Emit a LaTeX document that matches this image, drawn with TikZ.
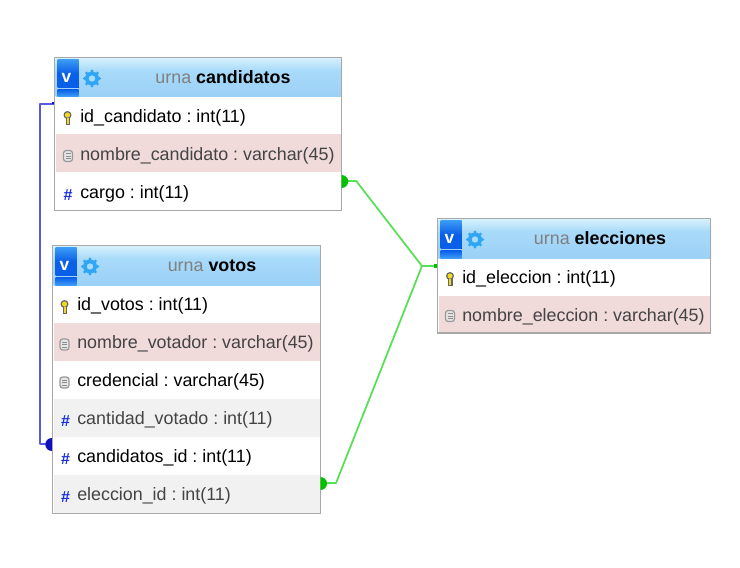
\documentclass[tikz,border=0pt]{standalone}
\usepackage{fontspec}
\setmainfont{Liberation Sans}
\usetikzlibrary{calc,shapes.geometric}
\definecolor{hdrtop}{HTML}{D4F0FD}
\definecolor{hdrmid}{HTML}{A8DAF9}
\definecolor{hdrbot}{HTML}{9BD1F7}
\definecolor{vblue}{HTML}{0A5FE8}
\definecolor{vlight}{HTML}{3C9BF5}
\definecolor{gearblue}{HTML}{2FA6F5}
\definecolor{rowpink}{HTML}{F0DADA}
\definecolor{rowgrey}{HTML}{F1F1F1}
\definecolor{txtgrey}{HTML}{444444}
\definecolor{urnagrey}{HTML}{808080}
\definecolor{framegrey}{HTML}{A8A8A8}
\definecolor{hashblue}{HTML}{1A2FE0}
\definecolor{linkgreen}{HTML}{55E055}
\definecolor{dotgreen}{HTML}{00C000}
\definecolor{linkblue}{HTML}{5A5ADC}
\definecolor{dotblue}{HTML}{1010C0}
\tikzset{
  x=0.75pt,y=-0.75pt,
  tablebox/.style={fill=white,inner sep=0,outer sep=0,anchor=north west},
  frameline/.style={draw=framegrey,line width=0.8pt},
  hdrtext/.style={font=\fontsize{13.4pt}{15pt}\selectfont,inner sep=0,anchor=center},
  rowtext/.style={font=\fontsize{13.4pt}{15pt}\selectfont,inner sep=0,anchor=base west},
  vletter/.style={font=\bfseries\fontsize{13pt}{14pt}\selectfont,text=white,inner sep=0,anchor=center},
  greenlink/.style={draw=linkgreen,line width=1.3pt,line join=round},
  bluelink/.style={draw=linkblue,line width=1.6pt,line join=round},
  hashmark/.style={font=\bfseries\fontsize{12pt}{13pt}\selectfont,text=hashblue,inner sep=0,anchor=center}
}
\newcommand{\headband}[4]{%
  \fill[top color=hdrtop,bottom color=hdrmid] (#1,#2) rectangle (#3,#2+12);
  \fill[top color=hdrmid,bottom color=hdrbot] (#1,#2+12) rectangle (#3,#4);
  \fill[top color=vlight,bottom color=vblue,middle color=vblue] (#1+2,#2+1) rectangle (#1+23,#2+29);
  \fill[top color=vblue,bottom color=vlight] (#1+2,#2+31) rectangle (#1+23,#4);
  \foreach \a in {0,45,...,315} {\fill[gearblue] (#1+36.5,#2+20)+(\a:7.5) circle (1.7);}
  \fill[gearblue] (#1+36.5,#2+20) circle (7);
  \fill[hdrmid] (#1+36.5,#2+20) circle (3.2);
}
\newcommand{\keyicon}[2]{%
  \fill[black!60] (#1,#2-3) circle (4);
  \fill[yellow!75!brown] (#1,#2-3) circle (2.6);
  \fill[black!60] (#1-2,#2) rectangle (#1+2.5,#2+6.5);
  \fill[yellow!75!brown] (#1-0.8,#2) rectangle (#1+1,#2+5.5);
}
\newcommand{\docicon}[2]{%
  \draw[black!40,fill=black!10,line width=0.9pt,rounded corners=2pt] (#1-4.5,#2-5.5) rectangle (#1+4.5,#2+5.5);
  \draw[black!45,line width=0.6pt] (#1-2.5,#2-2.5) -- (#1+2.5,#2-2.5) (#1-2.5,#2) -- (#1+2.5,#2) (#1-2.5,#2+2.5) -- (#1+2.5,#2+2.5);
}
\begin{document}
\begin{tikzpicture}
\frenchspacing
\useasboundingbox (0,0) rectangle (740,568);
\fill[white] (0,0) rectangle (740,568);
% candidatos table
\node[tablebox,minimum width=215.2pt,minimum height=115.2pt] (cand) at (54.3,57.3) {};
\headband{55.5}{58.5}{341}{96}
\node[vletter] (candv) at (66.5,78) {v};
\node[hdrtext] (candt) at (223,77.5) {\textcolor{urnagrey}{urna} \textbf{candidatos}};
\fill[rowpink] (55.5,134) rectangle (341,172);
\keyicon{67.5}{118}
\node[rowtext] (c1) at (80,122) {id\_candidato : int(11)};
\docicon{68}{156}
\node[rowtext,text=txtgrey] (c2) at (80,160) {nombre\_candidato : varchar(45)};
\node[hashmark] (c3h) at (68,195) {\#};
\node[rowtext] (c3) at (80,198) {cargo : int(11)};
\draw[frameline] (cand.north west) rectangle (cand.south east);
% votos table
\node[tablebox,minimum width=200.8pt,minimum height=201pt] (vot) at (52.3,245.3) {};
\headband{53.5}{246.5}{320}{285}
\node[vletter] (votv) at (64.5,266) {v};
\node[hdrtext] (vott) at (212,265.5) {\textcolor{urnagrey}{urna} \textbf{votos}};
\fill[rowpink] (53.5,323) rectangle (320,361);
\fill[rowgrey] (53.5,399) rectangle (320,437);
\fill[rowgrey] (53.5,475) rectangle (320,513);
\keyicon{64.5}{307}
\node[rowtext] (v1) at (77,310) {id\_votos : int(11)};
\docicon{64.5}{344.5}
\node[rowtext,text=txtgrey] (v2) at (77,348) {nombre\_votador : varchar(45)};
\docicon{64.5}{382.5}
\node[rowtext] (v3) at (77,386) {credencial : varchar(45)};
\node[hashmark] (v4h) at (65.5,421.5) {\#};
\node[rowtext,text=txtgrey] (v4) at (77,424) {cantidad\_votado : int(11)};
\node[hashmark] (v5h) at (65.5,459.5) {\#};
\node[rowtext] (v5) at (77,462) {candidatos\_id : int(11)};
\node[hashmark] (v6h) at (65.5,497.5) {\#};
\node[rowtext,text=txtgrey] (v6) at (77,500) {eleccion\_id : int(11)};
\draw[frameline] (vot.north west) rectangle (vot.south east);
% elecciones table
\node[tablebox,minimum width=205.2pt,minimum height=86pt] (ele) at (437.3,218.3) {};
\headband{438.5}{219.5}{711}{258}
\node[vletter] (elev) at (449.5,239) {v};
\node[hdrtext] (elet) at (600,238.5) {\textcolor{urnagrey}{urna} \textbf{elecciones}};
\fill[rowpink] (438.5,296) rectangle (711,333.5);
\keyicon{450}{279}
\node[rowtext] (e1) at (462,283) {id\_eleccion : int(11)};
\docicon{450}{316}
\node[rowtext,text=txtgrey] (e2) at (462,321) {nombre\_eleccion : varchar(45)};
\draw[frameline] (ele.north west) rectangle (ele.south east);
% connectors
\coordinate (cc) at (cand.east |- 0,181);
\coordinate (vc) at (vot.east |- 0,483);
\coordinate (ec) at (ele.west |- 0,266);
\coordinate (junc) at (422,266);
\coordinate (cb) at (cand.west |- 0,104);
\coordinate (vb) at (vot.west |- 0,444);
\draw[greenlink] (cc) -- ++(15,0) -- (junc);
\draw[greenlink] (vc) -- ++(16,0) -- (junc);
\draw[greenlink] (junc) -- (ec);
\draw[bluelink] (cb) -- (40,104) -- (40,444) -- (vb);
\fill[dotgreen] ($(cc)+(0.5,-6)$) arc[start angle=-90,end angle=90,radius=6.5] -- cycle;
\fill[dotgreen] ($(vc)+(0.5,-6)$) arc[start angle=-90,end angle=90,radius=6.5] -- cycle;
\fill[dotgreen] ($(ec)+(-3.5,-2)$) rectangle ($(ec)+(0,2)$);
\fill[dotblue] ($(vb)+(-0.5,-6)$) arc[start angle=-90,end angle=-270,radius=6.5] -- cycle;
\fill[dotblue] ($(cb)+(-2.5,-2)$) rectangle (cb);
\end{tikzpicture}
\end{document}
